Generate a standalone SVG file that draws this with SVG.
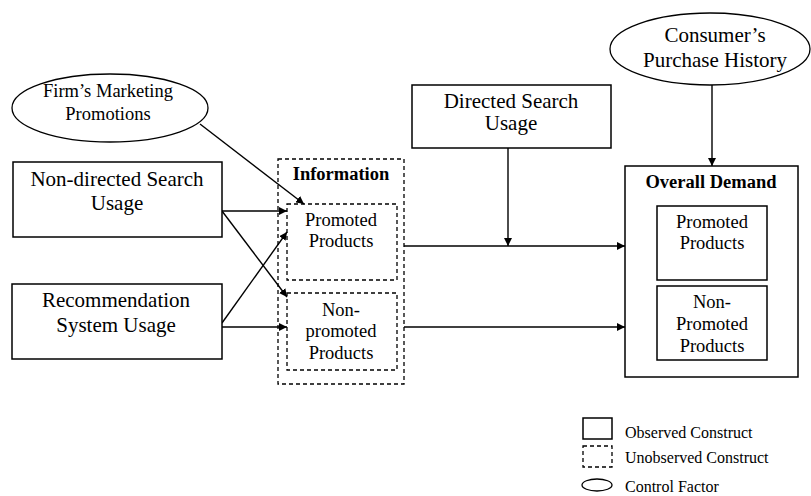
<svg xmlns="http://www.w3.org/2000/svg" width="811" height="496" viewBox="0 0 811 496">
<style>
text{font-family:"Liberation Serif","Times New Roman",serif;fill:#000;text-anchor:middle}
.b{font-size:21px}
.m{font-size:18.5px}
.bold{font-weight:bold}
.lg{font-size:16px;text-anchor:start}
.box{fill:#fff;stroke:#000;stroke-width:1.5}
.dash{fill:none;stroke:#000;stroke-width:1.3;stroke-dasharray:4,3}
.ell{fill:#fff;stroke:#000;stroke-width:1.3}
.c{stroke:#000;stroke-width:1.4;fill:none}
</style>
<defs>
<marker id="ah" viewBox="0 0 10 10" refX="10" refY="5" markerWidth="8" markerHeight="8" markerUnits="userSpaceOnUse" orient="auto">
<path d="M0,0 L10,5 L0,10 z" fill="#000"/>
</marker>
</defs>
<rect width="811" height="496" fill="#fff"/>

<g id="connectors">
<line class="c" x1="200" y1="124" x2="304" y2="204" marker-end="url(#ah)"/>
<line class="c" x1="222" y1="211" x2="287" y2="211" marker-end="url(#ah)"/>
<line class="c" x1="222" y1="211" x2="287" y2="297" marker-end="url(#ah)"/>
<line class="c" x1="222" y1="323" x2="287" y2="232" marker-end="url(#ah)"/>
<line class="c" x1="222" y1="327" x2="287" y2="327" marker-end="url(#ah)"/>
<line class="c" x1="404" y1="246" x2="625" y2="246" marker-end="url(#ah)"/>
<line class="c" x1="404" y1="327" x2="625" y2="327" marker-end="url(#ah)"/>
<line class="c" x1="508" y1="148" x2="508" y2="246" marker-end="url(#ah)"/>
<line class="c" x1="712" y1="85" x2="712" y2="166" marker-end="url(#ah)"/>
</g>

<g id="firm-marketing">
<ellipse class="ell" cx="110" cy="108" rx="98" ry="34"/>
<text class="m" x="108" y="97">Firm’s Marketing</text>
<text class="m" x="108" y="120">Promotions</text>
</g>

<g id="non-directed-search">
<rect class="box" x="13" y="162" width="209" height="75"/>
<text class="b" x="117" y="186">Non-directed Search</text>
<text class="b" x="117" y="210">Usage</text>
</g>

<g id="recommendation">
<rect class="box" x="12" y="284" width="210" height="75"/>
<text class="b" x="116" y="307">Recommendation</text>
<text class="b" x="116" y="332">System Usage</text>
</g>

<g id="information">
<rect class="dash" x="278" y="159" width="126" height="225"/>
<text class="m bold" x="341" y="180">Information</text>
</g>

<g id="info-promoted">
<rect class="dash" x="287" y="204" width="110" height="76"/>
<text class="m" x="341" y="226">Promoted</text>
<text class="m" x="341" y="247">Products</text>
</g>

<g id="info-nonpromoted">
<rect class="dash" x="287" y="293" width="110" height="77"/>
<text class="m" x="341" y="316">Non-</text>
<text class="m" x="341" y="337">promoted</text>
<text class="m" x="341" y="359">Products</text>
</g>

<g id="directed-search">
<rect class="box" x="412" y="85" width="199" height="63"/>
<text class="b" x="511" y="108">Directed Search</text>
<text class="b" x="511" y="130">Usage</text>
</g>

<g id="purchase-history">
<ellipse class="ell" cx="710" cy="49" rx="100" ry="36"/>
<text class="b" x="715" y="42">Consumer’s</text>
<text class="b" x="715" y="67">Purchase History</text>
</g>

<g id="overall-demand">
<rect class="box" x="625" y="166" width="173" height="211"/>
<text class="m bold" x="711" y="188">Overall Demand</text>
</g>

<g id="od-promoted">
<rect class="box" x="657" y="206" width="110" height="74"/>
<text class="m" x="712" y="228">Promoted</text>
<text class="m" x="712" y="249">Products</text>
</g>

<g id="od-nonpromoted">
<rect class="box" x="657" y="286" width="110" height="74"/>
<text class="m" x="712" y="308">Non-</text>
<text class="m" x="712" y="330">Promoted</text>
<text class="m" x="712" y="352">Products</text>
</g>

<g id="legend">
<rect class="box" x="583" y="418" width="29" height="21"/>
<text class="lg" x="625" y="438">Observed Construct</text>
<rect class="dash" x="583" y="446" width="29" height="21"/>
<text class="lg" x="625" y="463">Unobserved Construct</text>
<ellipse class="ell" cx="597" cy="485" rx="15" ry="6"/>
<text class="lg" x="625" y="492">Control Factor</text>
</g>
</svg>
